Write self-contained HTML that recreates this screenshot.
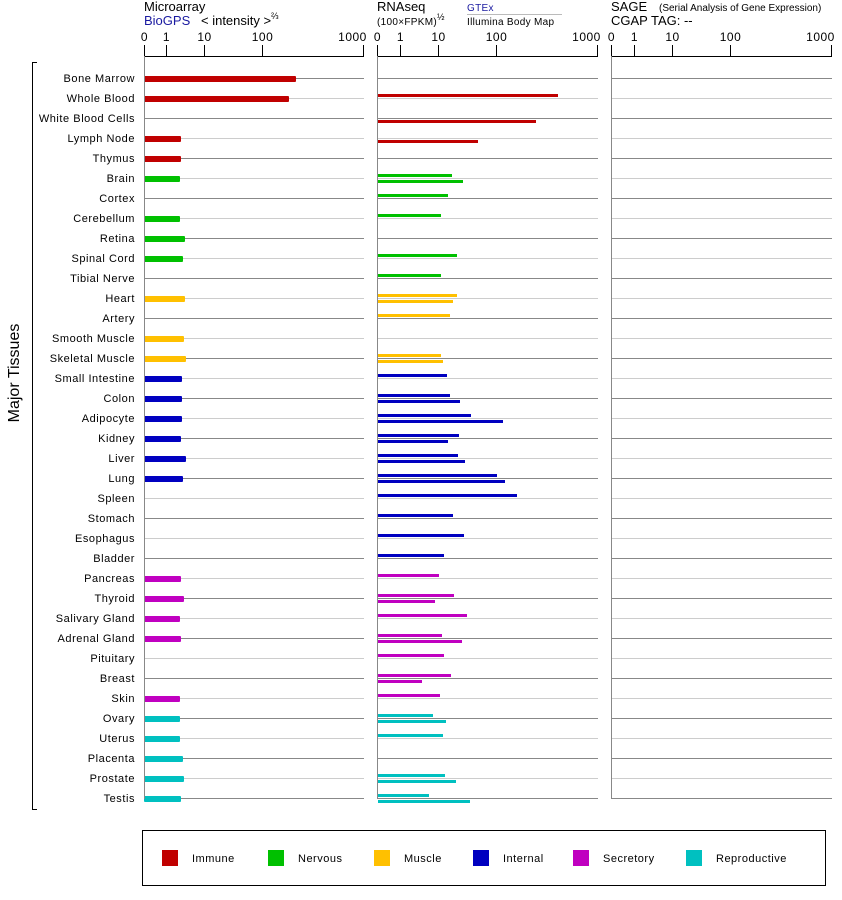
<!DOCTYPE html>
<html><head><meta charset="utf-8"><style>
body{margin:0;background:#fff;}
svg{display:block;font-family:"Liberation Sans",Arial,sans-serif;}
</style></head><body>
<svg id="s" width="842" height="900" xmlns="http://www.w3.org/2000/svg">
<text x="144" y="11" font-size="13">Microarray</text>
<text x="144" y="25" font-size="13" fill="#1a1aa0">BioGPS</text>
<text x="201" y="25" font-size="13">&lt; intensity &gt;</text>
<text x="271" y="19" font-size="9">⅔</text>
<text x="377" y="11" font-size="13">RNAseq</text>
<text x="377" y="25" font-size="10" letter-spacing="0.3">(100×FPKM)</text>
<text x="437" y="20" font-size="9">½</text>
<text x="467" y="11" font-size="10" fill="#1a1aa0" letter-spacing="0.3">GTEx</text>
<line x1="467" y1="14.5" x2="562" y2="14.5" stroke="#bbb"/>
<text x="467" y="25" font-size="10" letter-spacing="0.3">Illumina Body Map</text>
<text x="611" y="11" font-size="13">SAGE</text>
<text x="659" y="11" font-size="10">(Serial Analysis of Gene Expression)</text>
<text x="611" y="25" font-size="13">CGAP  TAG:  --</text>
<line x1="32.5" y1="62" x2="32.5" y2="810" stroke="#000"/>
<line x1="32" y1="62.5" x2="37" y2="62.5" stroke="#000"/>
<line x1="32" y1="809.5" x2="37" y2="809.5" stroke="#000"/>
<text transform="translate(19,373) rotate(-90)" font-size="16" text-anchor="middle">Major Tissues</text>
<rect x="142.5" y="830.5" width="683" height="55" fill="none" stroke="#000"/>
<g id="g"></g>
</svg>
<script>
const NS="http://www.w3.org/2000/svg",g=document.getElementById('g');
function el(t,a,txt){const e=document.createElementNS(NS,t);for(const k in a)e.setAttribute(k,a[k]);if(txt!=null)e.textContent=txt;g.appendChild(e);return e;}
const C={I:"#c00000",N:"#00c000",M:"#ffc000",T:"#0000c0",S:"#c000c0",R:"#00c0c0"};
const rows=[
["Bone Marrow","I",296,0,0],["Whole Blood","I",289,558,0],["White Blood Cells","I",0,0,536],["Lymph Node","I",181,0,478],["Thymus","I",181,0,0],
["Brain","N",180,452,463],["Cortex","N",0,448,0],["Cerebellum","N",180,441,0],["Retina","N",185,0,0],["Spinal Cord","N",183,457,0],["Tibial Nerve","N",0,441,0],
["Heart","M",185,457,453],["Artery","M",0,450,0],["Smooth Muscle","M",184,0,0],["Skeletal Muscle","M",186,441,443],
["Small Intestine","T",182,447,0],["Colon","T",182,450,460],["Adipocyte","T",182,471,503],["Kidney","T",181,459,448],["Liver","T",186,458,465],["Lung","T",183,497,505],["Spleen","T",0,517,0],["Stomach","T",0,453,0],["Esophagus","T",0,464,0],["Bladder","T",0,444,0],
["Pancreas","S",181,439,0],["Thyroid","S",184,454,435],["Salivary Gland","S",180,467,0],["Adrenal Gland","S",181,442,462],["Pituitary","S",0,444,0],["Breast","S",0,451,422],["Skin","S",180,440,0],
["Ovary","R",180,433,446],["Uterus","R",180,443,0],["Placenta","R",183,0,0],["Prostate","R",184,445,456],["Testis","R",181,429,470]];
[[144,166,204,262,363],[377,400,438,496,597],[611,634,672,730,831]].forEach(xs=>{
 el('line',{x1:xs[0],y1:56.5,x2:xs[4]+1,y2:56.5,stroke:"#000"});
 ["0","1","10","100","1000"].forEach((l,i)=>{const x=xs[i]+.5;el('line',{x1:x,y1:45,x2:x,y2:57,stroke:"#000"});
  el('text',{x:i==4?x-11:x,y:41,"font-size":12,"text-anchor":"middle","letter-spacing":0.5},l);});
});
rows.forEach((r,i)=>{const y=78+i*20;const st=i%2?"#ccc":"#888";
 el('line',{x1:144,y1:y+.5,x2:364,y2:y+.5,stroke:st});
 el('line',{x1:377,y1:y+.5,x2:598,y2:y+.5,stroke:st});
 el('line',{x1:611,y1:y+.5,x2:832,y2:y+.5,stroke:st});
 el('text',{x:135,y:y+4,"font-size":11,"text-anchor":"end","letter-spacing":0.55},r[0]);
 const c=C[r[1]];
 if(r[2])el('rect',{x:144,y:y-2,width:r[2]-144,height:6,fill:c,rx:1});
 if(r[3])el('rect',{x:378,y:y-4,width:r[3]-378,height:3,fill:c});
 if(r[4])el('rect',{x:378,y:y+2,width:r[4]-378,height:3,fill:c});
});
[144,377,611].forEach(x=>el('line',{x1:x+.5,y1:56,x2:x+.5,y2:799,stroke:"#888"}));
[["Immune","I",162],["Nervous","N",268],["Muscle","M",374],["Internal","T",473],["Secretory","S",573],["Reproductive","R",686]].forEach(l=>{
 el('rect',{x:l[2],y:850,width:16,height:16,fill:C[l[1]]});
 el('text',{x:l[2]+30,y:862,"font-size":11,"letter-spacing":0.5},l[0]);});
</script>
</body></html>
